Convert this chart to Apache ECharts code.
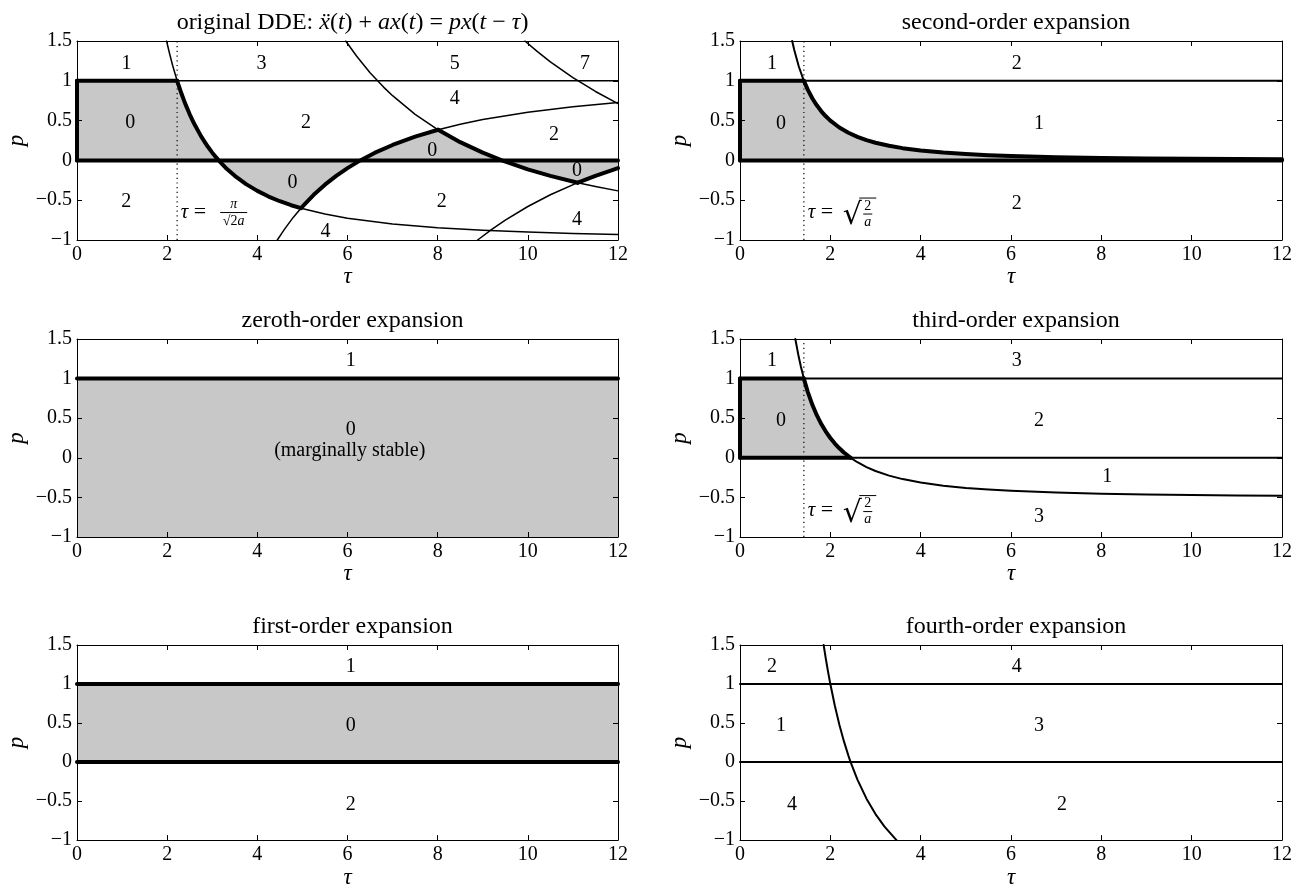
<!DOCTYPE html>
<html><head><meta charset="utf-8">
<script src="https://cdn.jsdelivr.net/npm/echarts@6/dist/echarts.min.js"></script>
<style>html,body{margin:0;padding:0;background:#fff}#c{width:1302px;height:890px}</style>
</head><body><div id="c"></div>
<script>
// ---------- axis ticks ----------
const xTicks = [0, 2, 4, 6, 8, 10, 12];
const yTicks = [-1, -0.5, 0, 0.5, 1, 1.5];

// ---------- panel titles ----------
const panelTitles = [
  '{r|original DDE: }{i|ẍ}{r|(}{i|t}{r|) + }{i|ax}{r|(}{i|t}{r|) = }{i|px}{r|(}{i|t}{r| − }{i|τ}{r|)}',
  'second-order expansion',
  'zeroth-order expansion',
  'third-order expansion',
  'first-order expansion',
  'fourth-order expansion'
];

// ---------- panel A: original DDE ----------
const ddeK1Top = [[1.987,1.5],[2.05,1.349],[2.12,1.196],[2.221,1.0]];
const ddeK1Stable = [[2.221,1.0],[2.3,0.866],[2.4,0.713],[2.5,0.579],[2.6,0.46],[2.75,0.305],[2.9,0.174],[3.0,0.097],[3.142,0],[3.3,-0.094],[3.5,-0.194],[3.75,-0.298],[4.0,-0.383],[4.25,-0.454],[4.5,-0.513],[4.75,-0.563],[4.967,-0.6]];
const ddeK1Tail = [[4.967,-0.6],[5.5,-0.674],[6,-0.726],[7,-0.799],[8,-0.846],[9,-0.878],[10,-0.901],[11,-0.918],[12,-0.931]];
const ddeK2Start = [[4.443,-1.0],[4.6,-0.866],[4.8,-0.713],[4.967,-0.6]];
const ddeK2Stable = [[4.967,-0.6],[5.25,-0.432],[5.5,-0.305],[5.75,-0.194],[6.0,-0.097],[6.283,0],[6.6,0.094],[7.0,0.194],[7.5,0.298],[8.01,0.385]];
const ddeK2Tail = [[8.01,0.385],[8.5,0.454],[9,0.513],[10,0.605],[11,0.674],[12,0.726]];
const ddeK3Top = [[5.961,1.5],[6.2,1.311],[6.5,1.102],[6.8,0.921],[7.0,0.813],[7.5,0.579],[8.01,0.385]];
const ddeK3Stable = [[8.01,0.385],[8.5,0.229],[9.0,0.097],[9.425,0],[10.0,-0.112],[10.5,-0.194],[11.107,-0.28]];
const ddeK3Tail = [[11.107,-0.28],[11.5,-0.328],[12,-0.383]];
const ddeK4Start = [[8.886,-1.0],[9.2,-0.866],[9.5,-0.75],[10,-0.579],[10.5,-0.432],[11.107,-0.28]];
const ddeK4Stable = [[11.107,-0.28],[11.5,-0.194],[12,-0.097]];
const ddeK5 = [[9.935,1.5],[10.2,1.372],[10.5,1.238],[11,1.039],[11.5,0.866],[12,0.713]];
const ddeP1Stable = [[0,1],[2.221,1]];
const ddeP1Rest = [[2.221,1],[12,1]];
const ddeP0 = [[0,0],[12,0]];
const ddeEdge = [[0,0],[0,1]];
const ddeDelay = [[2.221,-1],[2.221,1.5]];
const ddeLabels = [['1',1.1,1.22],['3',4.09,1.22],['5',8.38,1.22],['7',11.27,1.22],['4',8.38,0.77],['0',1.18,0.47],['2',5.08,0.47],['2',10.58,0.32],['0',7.88,0.12],['0',4.78,-0.28],['0',11.09,-0.135],['2',1.09,-0.52],['2',8.09,-0.52],['4',11.09,-0.74],['4',5.51,-0.9]];
const ddeNote = [2.30, -0.655];

// ---------- panel B: second-order ----------
const soTop = [[1.155,1.5],[1.2,1.389],[1.3,1.183],[1.414,1.0]];
const soStable = [[1.414,1.0],[1.5,0.889],[1.6,0.781],[1.7,0.692],[1.8,0.617],[1.9,0.554],[2.0,0.5],[2.2,0.413],[2.4,0.347],[2.6,0.296],[2.8,0.255],[3.0,0.222],[3.3,0.184],[3.6,0.154],[4.0,0.125],[4.5,0.099],[5.0,0.08],[5.5,0.066],[6,0.056],[7,0.041],[8,0.031],[9,0.025],[10,0.02],[11,0.017],[12,0.014]];
const soP1Stable = [[0,1],[1.414,1]];
const soP1Rest = [[1.414,1],[12,1]];
const soP0 = [[0,0],[12,0]];
const soEdge = [[0,0],[0,1]];
const soDelay = [[1.414,-1],[1.414,1.5]];
const soLabels = [['1',0.71,1.22],['2',6.13,1.22],['0',0.91,0.46],['1',6.62,0.46],['2',6.13,-0.54]];
const soNote = [1.50, -0.655];

// ---------- panel C: zeroth-order ----------
const zoP1 = [[0,1],[12,1]];
const zoLabels = [['1',6.07,1.225],['0',6.07,0.36],['(marginally stable)',6.05,0.083]];

// ---------- panel D: third-order ----------
const toTop = [[1.225,1.5],[1.3,1.275],[1.35,1.146],[1.414,1.0]];
const toStable = [[1.414,1.0],[1.5,0.833],[1.6,0.672],[1.7,0.538],[1.8,0.426],[1.9,0.331],[2.0,0.25],[2.1,0.18],[2.2,0.12],[2.3,0.067],[2.449,0]];
const toTail = [[2.449,0],[2.6,-0.056],[2.8,-0.117],[3.0,-0.167],[3.3,-0.225],[3.6,-0.269],[4.0,-0.313],[4.5,-0.352],[5.0,-0.38],[5.5,-0.401],[6,-0.417],[7,-0.439],[8,-0.453],[9,-0.463],[10,-0.47],[11,-0.475],[12,-0.479]];
const toP1Stable = [[0,1],[1.414,1]];
const toP1Rest = [[1.414,1],[12,1]];
const toP0Stable = [[0,0],[2.449,0]];
const toP0Rest = [[2.449,0],[12,0]];
const toEdge = [[0,0],[0,1]];
const toDelay = [[1.414,-1],[1.414,1.5]];
const toLabels = [['1',0.71,1.225],['3',6.13,1.225],['0',0.91,0.466],['2',6.62,0.466],['1',8.13,-0.245],['3',6.62,-0.74]];
const toNote = [1.50, -0.66];

// ---------- panel E: first-order ----------
const foP1 = [[0,1],[12,1]];
const foP0 = [[0,0],[12,0]];
const foLabels = [['1',6.07,1.225],['0',6.07,0.46],['2',6.07,-0.55]];

// ---------- panel F: fourth-order ----------
const fthCurve = [[1.852,1.5],[1.9,1.324],[1.95,1.156],[2.0,1.0],[2.1,0.721],[2.2,0.479],[2.3,0.268],[2.4,0.083],[2.449,0],[2.6,-0.225],[2.8,-0.469],[3.0,-0.667],[3.2,-0.828],[3.464,-1.0]];
const fthP1 = [[0,1],[12,1]];
const fthP0 = [[0,0],[12,0]];
const fthLabels = [['2',0.71,1.225],['4',6.13,1.225],['1',0.91,0.46],['3',6.62,0.46],['4',1.15,-0.55],['2',7.13,-0.55]];

// ---------- styling / layout ----------
const FONT = "'Liberation Serif','DejaVu Serif',serif";
const INK = '#000';
const FILL = '#c8c8c8';
const THICK = 4, THIN = 1.5, MED = 2;
const TICK_FS = 20, TITLE_FS = 24, NAME_FS = 23, LABEL_FS = 20;

const GRIDS = [
  {left: 77,  top: 41,  width: 541, height: 199},
  {left: 740, top: 41,  width: 542, height: 199},
  {left: 77,  top: 339, width: 541, height: 198},
  {left: 740, top: 339, width: 542, height: 198},
  {left: 77,  top: 645, width: 541, height: 198},
  {left: 740, top: 645, width: 542, height: 198}
];

const fmt = v => (v < 0 ? '−' + (-v) : String(v));
const xMin = xTicks[0], xMax = xTicks[xTicks.length - 1], xInt = xTicks[1] - xTicks[0];
const yMin = yTicks[0], yMax = yTicks[yTicks.length - 1], yInt = yTicks[1] - yTicks[0];

const xAxes = [], yAxes = [];
GRIDS.forEach((g, i) => {
  const common = {
    gridIndex: i, type: 'value', z: 5,
    axisLine: {show: true, onZero: false, lineStyle: {color: INK, width: 1}},
    axisTick: {show: true, inside: true, length: 5, lineStyle: {color: INK, width: 1}},
    splitLine: {show: false}
  };
  xAxes.push(Object.assign({}, common, {
    position: 'bottom', min: xMin, max: xMax, interval: xInt,
    axisLabel: {show: true, margin: 5, color: INK, fontFamily: FONT, fontSize: TICK_FS, formatter: fmt},
    name: 'τ', nameLocation: 'middle', nameGap: 23,
    nameTextStyle: {color: INK, fontFamily: FONT, fontSize: NAME_FS, fontStyle: 'italic'}
  }));
  xAxes.push(Object.assign({}, common, {
    position: 'top', min: xMin, max: xMax, interval: xInt, axisLabel: {show: false}
  }));
  yAxes.push(Object.assign({}, common, {
    position: 'left', min: yMin, max: yMax, interval: yInt,
    axisLabel: {show: true, margin: 5, color: INK, fontFamily: FONT, fontSize: TICK_FS, formatter: fmt},
    name: 'p', nameLocation: 'middle', nameGap: 49,
    nameTextStyle: {color: INK, fontFamily: FONT, fontSize: NAME_FS, fontStyle: 'italic'}
  }));
  yAxes.push(Object.assign({}, common, {
    position: 'right', min: yMin, max: yMax, interval: yInt, axisLabel: {show: false}
  }));
});

const series = [];
function line(gi, data, width, opts) {
  series.push(Object.assign({
    type: 'line', xAxisIndex: 2 * gi, yAxisIndex: 2 * gi, data: data,
    symbol: 'none', showSymbol: false, smooth: false, silent: true, z: 3,
    lineStyle: {color: INK, width: width, cap: 'round', join: 'round'}
  }, opts || {}));
}
function fill(gi, data, origin) {
  series.push({
    type: 'line', xAxisIndex: 2 * gi, yAxisIndex: 2 * gi, data: data,
    symbol: 'none', showSymbol: false, smooth: false, silent: true, z: 1,
    lineStyle: {width: 0, opacity: 0},
    areaStyle: {color: FILL, opacity: 1, origin: origin}
  });
}
function dotted(gi, data) {
  line(gi, data, 1.2, {lineStyle: {color: INK, width: 1.2, type: [1.2, 3.5]}, z: 2});
}
const SYM = {symbol: 'circle', symbolSize: 0, itemStyle: {color: INK, opacity: 1}};
function labels(gi, items) {
  series.push(Object.assign({
    type: 'scatter', xAxisIndex: 2 * gi, yAxisIndex: 2 * gi, silent: true, z: 20,
    data: items.map(([t, x, y]) => ({value: [x, y], name: t})),
    label: {show: true, position: 'inside', formatter: '{b}', color: INK, opacity: 1,
      fontFamily: FONT, fontSize: LABEL_FS, textBorderWidth: 0}
  }, SYM));
}
const R = (extra) => Object.assign({fontFamily: FONT, color: INK}, extra);
function note(gi, anchor, kind) {
  const items = [];
  items.push({value: anchor, label: {show: true, position: 'inside', align: 'left', verticalAlign: 'middle', color: INK,
    formatter: '{i|τ}{r| = }', rich: {i: R({fontSize: 21, fontStyle: 'italic'}), r: R({fontSize: 22})}}});
  if (kind === 'pi') {
    items.push({value: anchor, label: {show: true, position: 'inside', align: 'center', verticalAlign: 'middle', offset: [53, 1], color: INK,
      formatter: '{n|π}\n{b| }\n{d|√2}{di|a}',
      rich: {n: R({fontSize: 14, lineHeight: 13, fontStyle: 'italic'}),
             b: {width: 27, height: 1, lineHeight: 3, fontSize: 1, backgroundColor: INK},
             d: R({fontSize: 14, lineHeight: 15}), di: R({fontSize: 14, lineHeight: 15, fontStyle: 'italic'})}}});
  } else {
    items.push({value: anchor, label: {show: true, position: 'inside', align: 'left', verticalAlign: 'middle', offset: [35, 4], color: INK,
      formatter: '{s|√}', rich: {s: {fontFamily: "'DejaVu Serif',serif", color: INK, fontSize: 30}}}});
    items.push({value: anchor, label: {show: true, position: 'inside', align: 'center', verticalAlign: 'middle', offset: [60, 0], color: INK,
      formatter: '{o| }\n{n|2}\n{b| }\n{d|a}',
      rich: {o: {width: 17, height: 1, lineHeight: 3, fontSize: 1, backgroundColor: INK},
             n: R({fontSize: 14, lineHeight: 13}),
             b: {width: 9, height: 1, lineHeight: 3, fontSize: 1, backgroundColor: INK},
             d: R({fontSize: 14, lineHeight: 13, fontStyle: 'italic'})}}});
  }
  series.push(Object.assign({
    type: 'scatter', xAxisIndex: 2 * gi, yAxisIndex: 2 * gi, silent: true, z: 20, data: items
  }, SYM));
}

// panel A
fill(0, [].concat(ddeP1Stable, ddeK1Stable, ddeK2Stable, ddeK3Stable, ddeK4Stable), 'auto');
dotted(0, ddeDelay);
[ddeP1Rest, ddeK1Top, ddeK1Tail, ddeK2Start, ddeK2Tail, ddeK3Top, ddeK3Tail, ddeK4Start, ddeK5].forEach(d => line(0, d, THIN));
[ddeP1Stable, ddeEdge, ddeP0, ddeK1Stable, ddeK2Stable, ddeK3Stable, ddeK4Stable].forEach(d => line(0, d, THICK));
labels(0, ddeLabels);
note(0, ddeNote, 'pi');

// panel B
fill(1, [].concat(soP1Stable, soStable), 'auto');
dotted(1, soDelay);
[soP1Rest, soTop].forEach(d => line(1, d, MED));
[soP1Stable, soEdge, soP0, soStable].forEach(d => line(1, d, THICK));
labels(1, soLabels);
note(1, soNote, 'sqrt');

// panel C
fill(2, zoP1, 'start');
line(2, zoP1, THICK);
labels(2, zoLabels);

// panel D
fill(3, [].concat(toP1Stable, toStable), 'auto');
dotted(3, toDelay);
[toP1Rest, toP0Rest, toTop, toTail].forEach(d => line(3, d, MED));
[toP1Stable, toP0Stable, toEdge, toStable].forEach(d => line(3, d, THICK));
labels(3, toLabels);
note(3, toNote, 'sqrt');

// panel E
fill(4, foP1, 'auto');
[foP1, foP0].forEach(d => line(4, d, THICK));
labels(4, foLabels);

// panel F
[fthP1, fthP0, fthCurve].forEach(d => line(5, d, MED));
labels(5, fthLabels);

const titles = GRIDS.map((g, i) => ({
  text: panelTitles[i],
  left: g.left + g.width / 2, top: g.top - 35, textAlign: 'center',
  textStyle: {color: INK, fontFamily: FONT, fontSize: TITLE_FS, fontWeight: 'normal',
    rich: {r: {fontFamily: FONT, fontSize: TITLE_FS, color: INK},
           i: {fontFamily: FONT, fontSize: TITLE_FS, color: INK, fontStyle: 'italic'}}}
}));

const chart = echarts.init(document.getElementById('c'), null, {renderer: 'canvas'});
chart.setOption({
  animation: false,
  backgroundColor: '#fff',
  title: titles,
  grid: GRIDS.map(g => Object.assign({containLabel: false}, g)),
  xAxis: xAxes,
  yAxis: yAxes,
  series: series
});
</script></body></html>
